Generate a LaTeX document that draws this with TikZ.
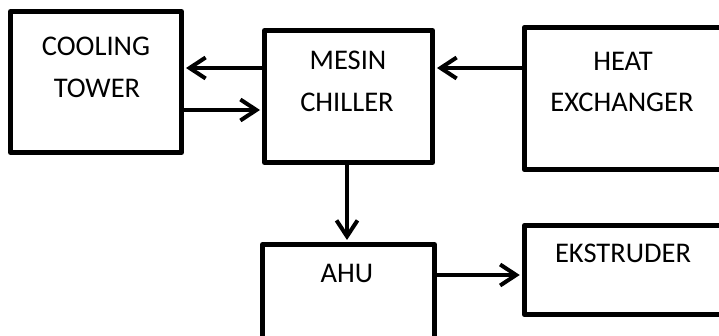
\documentclass[tikz,border=0pt]{standalone}
\usepackage{fontspec}
\setmainfont{Carlito}
\usetikzlibrary{arrows.meta}
\begin{document}
\begin{tikzpicture}[x=1pt,y=-1pt,
  blk/.style={draw=black,line width=5pt,rectangle,minimum width=#1,inner sep=0pt,line join=round},
  lbl/.style={anchor=base,inner sep=0pt,font=\fontsize{28.5}{34}\selectfont},
  arr/.style={line width=4pt,-{Straight Barb[length=16pt,width=21pt,line width=4pt]},shorten >=2pt}]
\useasboundingbox (0,0) rectangle (719,336);
\clip (0,0) rectangle (719,336);
\fill[white] (0,0) rectangle (719,336);
% boxes
\node[blk=171pt,minimum height=141pt] (cool) at (96,82) {};
\node[blk=168pt,minimum height=132pt] (chil) at (348.5,96.5) {};
\node[blk=215.5pt,minimum height=142pt] (heat) at (632,98.5) {};
\node[blk=172pt,minimum height=115pt] (ahu) at (348.5,302) {};
\node[blk=215.5pt,minimum height=89pt] (ekst) at (632,270) {};
% labels
\node[lbl] (t1) at (96,56) {COOLING};
\node[lbl] (t2) at (97,98) {TOWER};
\node[lbl] (t3) at (348,70) {MESIN};
\node[lbl] (t4) at (347,112) {CHILLER};
\node[lbl] (t5) at (623,71) {HEAT};
\node[lbl] (t6) at (622,112) {EXCHANGER};
\node[lbl] (t7) at (347,283) {AHU};
\node[lbl] (t8) at (623,263) {EKSTRUDER};
% helper coordinates
\coordinate (ya) at (0,68);
\coordinate (yb) at (0,110);
\coordinate (yc) at (0,275);
\coordinate (xd) at (347,0);
% connectors
\draw[arr] (chil.west |- ya) -- (cool.east |- ya);
\draw[arr] (cool.east |- yb) -- (chil.west |- yb);
\draw[arr] (heat.west |- ya) -- (chil.east |- ya);
\draw[arr] (chil.south -| xd) -- (ahu.north -| xd);
\draw[arr] (ahu.east |- yc) -- (ekst.west |- yc);
\end{tikzpicture}
\end{document}
